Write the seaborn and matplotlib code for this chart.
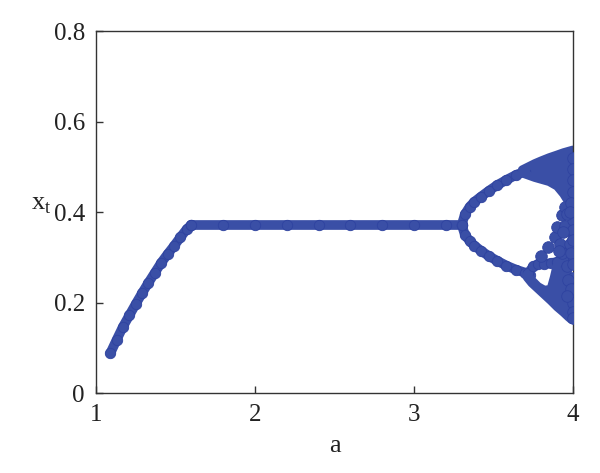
import matplotlib
matplotlib.use("Agg")
import matplotlib.pyplot as plt
import seaborn as sns
import pandas as pd
from matplotlib import font_manager

# ---- data ----
# period-1 branch (rising part)
a_rise = [1.09, 1.13, 1.17, 1.21, 1.25, 1.29, 1.33, 1.37, 1.41, 1.45, 1.49, 1.53, 1.57, 1.60]
x_rise = [0.088, 0.118, 0.147, 0.172, 0.197, 0.221, 0.244, 0.266, 0.288, 0.307, 0.325, 0.344, 0.362, 0.372]
# period-1 branch (flat part)
a_flat = [1.60, 1.80, 2.00, 2.20, 2.40, 2.60, 2.80, 3.00, 3.20, 3.30]
x_flat = [0.372, 0.372, 0.372, 0.372, 0.372, 0.372, 0.372, 0.372, 0.372, 0.372]
# period-2 branches
a_up = [3.30, 3.32, 3.35, 3.38, 3.42, 3.47, 3.52, 3.58, 3.64, 3.70]
x_up = [0.372, 0.395, 0.412, 0.423, 0.434, 0.447, 0.459, 0.471, 0.482, 0.490]
a_low = [3.30, 3.32, 3.35, 3.38, 3.42, 3.47, 3.52, 3.58, 3.64, 3.70, 3.73]
x_low = [0.372, 0.350, 0.336, 0.326, 0.315, 0.303, 0.293, 0.282, 0.273, 0.266, 0.262]
# upper chaotic band (edges)
a_cu = [3.68, 3.72, 3.76, 3.80, 3.85, 3.90, 3.94, 3.97, 4.00]
x_cu_hi = [0.494, 0.501, 0.508, 0.514, 0.521, 0.527, 0.532, 0.535, 0.538]
x_cu_lo = [0.486, 0.481, 0.476, 0.472, 0.467, 0.457, 0.440, 0.423, 0.410]
# lower loop arm
a_loop = [3.72, 3.75, 3.78, 3.82, 3.86, 3.90, 3.94]
x_loop = [0.266, 0.280, 0.285, 0.286, 0.287, 0.290, 0.296]
# lower chaotic triangle (edges)
a_ct = [3.71, 3.74, 3.78, 3.82, 3.86, 3.88, 3.90, 3.94, 3.97, 3.99]
x_ct_lo = [0.256, 0.243, 0.230, 0.217, 0.204, 0.197, 0.190, 0.178, 0.168, 0.162]
x_ct_hi = [0.262, 0.250, 0.236, 0.228, 0.230, 0.255, 0.285, 0.300, 0.320, 0.340]
# scattered chaotic points
a_dots = [3.80, 3.845, 3.887, 3.897, 3.929, 3.95, 3.93, 3.96, 3.92, 3.97, 3.98, 3.95,
          4.00, 4.00, 4.00, 4.00, 3.99, 4.00, 4.00, 4.00, 3.99, 4.00, 4.00, 4.00, 4.00, 4.00, 4.00,
          3.96, 3.98, 3.94, 3.97, 3.99, 3.91, 3.96]
x_dots = [0.302, 0.324, 0.346, 0.368, 0.394, 0.412, 0.309, 0.280, 0.330, 0.360, 0.330, 0.370,
          0.520, 0.495, 0.470, 0.445, 0.420, 0.383, 0.360, 0.338, 0.310, 0.285, 0.255, 0.225, 0.200, 0.180, 0.165,
          0.395, 0.400, 0.355, 0.250, 0.230, 0.315, 0.215]

x_ticks = [1, 2, 3, 4]
y_ticks = [0, 0.2, 0.4, 0.6, 0.8]
y_tick_labels = ["0", "0.2", "0.4", "0.6", "0.8"]

COL = "#3a4fa6"
EDGE = "#2f43a0"

sns.set_theme(style="white")
names = {f.name for f in font_manager.fontManager.ttflist}
serif_name = "DejaVu Serif"
for cand in ["Liberation Serif", "STIXGeneral", "STIX Two Text", "Nimbus Roman"]:
    if cand in names:
        serif_name = cand
        break
plt.rcParams["font.family"] = [serif_name, "DejaVu Serif"]
plt.rcParams["mathtext.fontset"] = "custom"
plt.rcParams["mathtext.rm"] = serif_name

fig = plt.figure(figsize=(6.0, 4.73), dpi=100)
ax = fig.add_axes([0.16, 0.169, 0.795, 0.765])

line_kw = dict(color=COL, linewidth=7.0, marker="o", markersize=7.5,
               markeredgecolor=EDGE, markerfacecolor=COL, markeredgewidth=0.6, sort=False,
               estimator=None, legend=False, solid_capstyle="round", solid_joinstyle="round")

for aa, xx in [(a_rise, x_rise), (a_flat, x_flat), (a_up, x_up), (a_low, x_low), (a_loop, x_loop)]:
    df = pd.DataFrame({"a": aa, "x": xx})
    sns.lineplot(data=df, x="a", y="x", ax=ax, **line_kw)

# filled chaotic regions
ax.fill_between(a_cu, x_cu_lo, x_cu_hi, color=COL, linewidth=0)
ax.fill_between(a_ct, x_ct_lo, x_ct_hi, color=COL, linewidth=0)
for aa, xx in [(a_cu, x_cu_lo), (a_cu, x_cu_hi), (a_ct, x_ct_lo), (a_ct, x_ct_hi)]:
    df = pd.DataFrame({"a": aa, "x": xx})
    sns.lineplot(data=df, x="a", y="x", ax=ax, color=COL, linewidth=6.0, sort=False,
                 estimator=None, legend=False, solid_capstyle="round", solid_joinstyle="round")

df_dots = pd.DataFrame({"a": a_dots, "x": x_dots})
sns.scatterplot(data=df_dots, x="a", y="x", ax=ax, color=COL, s=70,
                edgecolor=EDGE, linewidth=0.6, legend=False, zorder=3)

ax.set_xlim(1, 4)
ax.set_ylim(0, 0.8)
ax.set_xticks(x_ticks)
ax.set_xticklabels([str(t) for t in x_ticks])
ax.set_yticks(y_ticks)
ax.set_yticklabels(y_tick_labels)
ax.tick_params(direction="in", length=5, width=1, colors="#333333",
               labelcolor="#222222", labelsize=18, pad=8,
               bottom=True, left=True, top=False, right=False)
for sp in ax.spines.values():
    sp.set_color("#333333")
    sp.set_linewidth(1.0)
    sp.set_visible(True)

ax.set_xlabel("a", fontsize=19, color="#222222", labelpad=6)
ax.set_ylabel(r"x$_\mathregular{t}$", fontsize=19, color="#222222", rotation=0, labelpad=18)
ax.yaxis.set_label_coords(-0.115, 0.49)

fig.savefig("out.png", dpi=100)
